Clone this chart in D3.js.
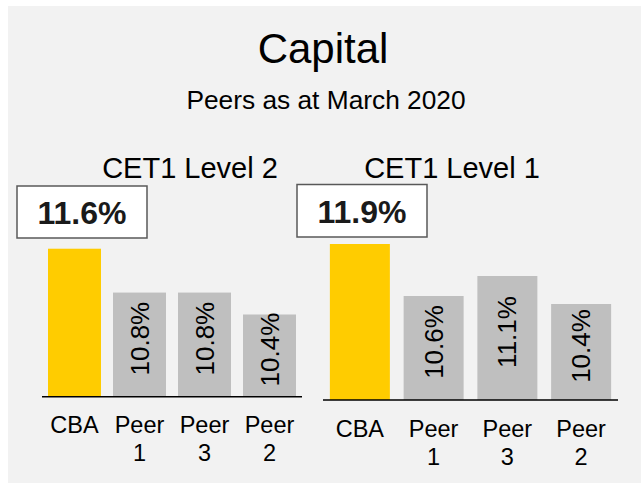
<!DOCTYPE html>
<html>
<head>
  <meta charset="utf-8">
  <title>Capital</title>
  <style>
    body { margin: 0; background: #fff; }
    text { font-family: "Liberation Sans", Arial, sans-serif; fill: #000; }
  </style>
</head>
<body>
  <div id="chart"></div>
  <script src="https://cdn.jsdelivr.net/npm/d3@7"></script>
  <script>
    var categories = ["CBA", "Peer 1", "Peer 3", "Peer 2"];
    var level2Values = [11.6, 10.8, 10.8, 10.4];
    var level1Values = [11.9, 10.6, 11.1, 10.4];
    var panelTitles = ["CET1 Level 2", "CET1 Level 1"];

    var width = 641, height = 483;

    var svg = d3.select("#chart").append("svg")
      .attr("width", width)
      .attr("height", height);

    svg.append("rect")
      .attr("x", 8).attr("y", 6)
      .attr("width", width - 8).attr("height", height - 6)
      .attr("fill", "#f2f2f2");

    svg.append("text")
      .attr("x", 323).attr("y", 63)
      .attr("text-anchor", "middle")
      .style("font-size", "42px")
      .text("Capital");

    svg.append("text")
      .attr("x", 326).attr("y", 109)
      .attr("text-anchor", "middle")
      .style("font-size", "26.3px")
      .text("Peers as at March 2020");

    // one panel per CET1 measure
    var panels = [
      {title: panelTitles[0], values: level2Values, x0: 42, x1: 302, base: 396.7,
       yMin: 8.9, yMax: 12, top: 226.8, titleX: 190, box: [17, 186, 130, 52], barW: 53, labelY: 432.7},
      {title: panelTitles[1], values: level1Values, x0: 323, x1: 618, base: 400,
       yMin: 8, yMax: 12, top: 240, titleX: 452, box: [297, 184.5, 130, 52.5], barW: 60, labelY: 436.7}
    ];

    panels.forEach(function(p) {
      var g = svg.append("g");

      var x = d3.scaleBand()
        .domain(categories)
        .range([p.x0, p.x1])
        .paddingInner(0.2)
        .paddingOuter(0.1);

      var y = d3.scaleLinear()
        .domain([p.yMin, p.yMax])
        .range([p.base, p.top]);

      g.append("text")
        .attr("x", p.titleX).attr("y", 177.5)
        .attr("text-anchor", "middle")
        .style("font-size", "29px")
        .text(p.title);

      var data = categories.map(function(c, i) { return {name: c, value: p.values[i]}; });

      g.selectAll("rect.bar")
        .data(data)
        .enter().append("rect")
        .attr("class", "bar")
        .attr("x", function(d) { return x(d.name) + (x.bandwidth() - p.barW) / 2; })
        .attr("width", p.barW)
        .attr("y", function(d) { return y(d.value); })
        .attr("height", function(d) { return p.base - y(d.value); })
        .attr("fill", function(d, i) { return i === 0 ? "#ffcc00" : "#bfbfbf"; });

      // rotated labels inside the peer bars
      g.selectAll("text.val")
        .data(data.slice(1))
        .enter().append("text")
        .attr("class", "val")
        .attr("transform", function(d) {
          var cx = x(d.name) + x.bandwidth() / 2;
          var cy = (y(d.value) + p.base) / 2 - 6;
          return "translate(" + cx + "," + cy + ") rotate(-90)";
        })
        .attr("text-anchor", "middle")
        .attr("dy", "0.35em")
        .style("font-size", "26px")
        .text(function(d) { return d.value.toFixed(1) + "%"; });

      // baseline
      g.append("line")
        .attr("x1", p.x0).attr("x2", p.x1)
        .attr("y1", p.base).attr("y2", p.base)
        .attr("stroke", "#000")
        .attr("stroke-width", 1.5);

      // category labels, wrapped on the space
      var lab = g.selectAll("text.cat")
        .data(data)
        .enter().append("text")
        .attr("class", "cat")
        .attr("text-anchor", "middle")
        .style("font-size", "23.5px");
      lab.each(function(d) {
        var parts = d.name.split(" ");
        var cx = x(d.name) + x.bandwidth() / 2;
        var t = d3.select(this);
        parts.forEach(function(w, k) {
          t.append("tspan")
            .attr("x", cx)
            .attr("y", p.labelY + k * 28.3)
            .text(w);
        });
      });

      // highlight box for CBA
      g.append("rect")
        .attr("x", p.box[0]).attr("y", p.box[1])
        .attr("width", p.box[2]).attr("height", p.box[3])
        .attr("fill", "#fff")
        .attr("stroke", "#595959")
        .attr("stroke-width", 1.5);

      g.append("text")
        .attr("x", p.box[0] + p.box[2] / 2)
        .attr("y", p.box[1] + 38)
        .attr("text-anchor", "middle")
        .style("font-size", "32px")
        .style("font-weight", "bold")
        .style("fill", "#1a1a1a")
        .text(p.values[0].toFixed(1) + "%");
    });
  </script>
</body>
</html>
